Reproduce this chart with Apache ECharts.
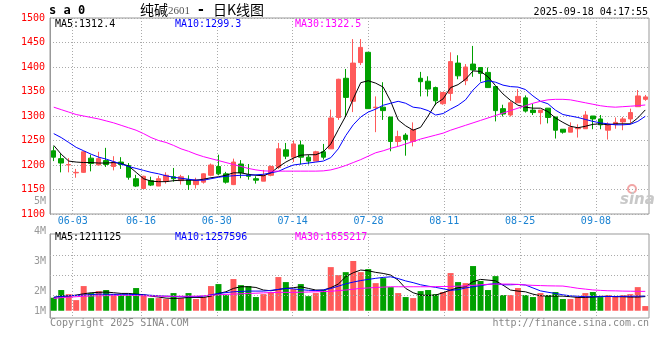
<!DOCTYPE html>
<html><head><meta charset="utf-8">
<script src="https://cdn.jsdelivr.net/npm/echarts@6/dist/echarts.min.js"></script>
<style>html,body{margin:0;padding:0;background:#fff}#c{width:660px;height:360px}</style>
</head><body><div id="c"></div>
<script>
const dates = ['05-28','05-29','05-30','06-03','06-04','06-05','06-06','06-09','06-10','06-11','06-12','06-13','06-16','06-17','06-18','06-19','06-20','06-23','06-24','06-25','06-26','06-27','06-30','07-01','07-02','07-03','07-04','07-07','07-08','07-09','07-10','07-11','07-14','07-15','07-16','07-17','07-18','07-21','07-22','07-23','07-24','07-25','07-28','07-29','07-30','07-31','08-01','08-04','08-05','08-06','08-07','08-08','08-11','08-12','08-13','08-14','08-15','08-18','08-19','08-20','08-21','08-22','08-25','08-26','08-27','08-28','08-29','09-01','09-02','09-03','09-04','09-05','09-08','09-09','09-10','09-11','09-12','09-15','09-16','09-17'];
const opens  = [1229,1213,1200,1184,1185,1214,1200,1209,1197,1206,1199,1172,1152,1168,1157,1167,1176,1168,1170,1160,1165,1179,1197,1182,1160,1202,1180,1172,1167,1179,1195,1231,1216,1241,1216,1208,1227,1233,1297,1377,1330,1409,1430,1317,1318,1298,1248,1261,1248,1377,1371,1358,1325,1346,1408,1372,1406,1399,1389,1360,1315,1302,1327,1337,1312,1307,1316,1298,1273,1267,1274,1274,1300,1294,1271,1283,1288,1294,1319,1334];
const closes = [1216,1204,1201,1185,1227,1203,1213,1201,1206,1201,1175,1157,1177,1159,1172,1179,1172,1176,1160,1169,1182,1200,1182,1165,1206,1184,1177,1169,1179,1197,1233,1218,1243,1216,1208,1227,1216,1296,1375,1338,1408,1440,1315,1318,1311,1248,1258,1252,1272,1370,1355,1331,1348,1411,1382,1400,1394,1387,1358,1311,1304,1327,1340,1310,1307,1312,1297,1271,1267,1277,1275,1302,1294,1282,1283,1287,1294,1307,1341,1339];
const lows   = [1208,1185,1185,1174,1184,1187,1200,1196,1189,1192,1170,1155,1151,1157,1157,1162,1166,1160,1149,1152,1162,1177,1179,1162,1159,1173,1170,1162,1167,1177,1192,1212,1206,1201,1201,1208,1211,1233,1292,1299,1308,1404,1315,1267,1292,1228,1238,1219,1238,1340,1340,1322,1323,1331,1375,1363,1380,1370,1358,1289,1299,1299,1327,1307,1302,1283,1285,1254,1264,1267,1256,1274,1273,1273,1252,1274,1271,1285,1319,1331];
const highs  = [1238,1223,1214,1192,1228,1221,1227,1235,1218,1216,1204,1180,1178,1176,1178,1185,1194,1180,1179,1174,1183,1203,1221,1186,1213,1210,1202,1177,1190,1199,1245,1245,1250,1250,1221,1229,1243,1313,1376,1396,1457,1457,1430,1340,1369,1298,1270,1265,1287,1390,1381,1360,1349,1430,1424,1406,1443,1399,1399,1360,1323,1331,1355,1342,1325,1312,1316,1298,1273,1287,1283,1310,1300,1302,1287,1297,1298,1315,1353,1343];
const volumesM = [1.11,1.77,1.42,0.91,2.11,1.51,1.68,1.77,1.42,1.34,1.34,1.94,1.34,1.08,1.08,1.00,1.51,1.08,1.51,1.00,1.17,2.11,2.28,1.34,2.71,2.19,2.11,1.17,1.42,1.60,2.88,2.45,1.85,2.28,1.25,1.51,1.77,3.73,3.05,3.30,4.25,3.30,3.56,2.36,2.79,2.02,1.51,1.17,1.08,1.68,1.77,1.42,1.60,3.22,2.45,2.36,3.82,2.54,1.77,2.96,1.34,1.34,1.94,1.34,1.17,1.51,1.34,1.60,1.00,1.00,1.17,1.51,1.60,1.17,1.34,1.25,1.34,1.42,2.02,0.40];
const ma5  = [1240,1222,1208,1206,1205,1205,1204,1204,1205,1203,1198,1185,1172,1167,1166,1166,1168,1169,1169,1169,1171,1174,1176,1179,1184,1184,1181,1179,1178,1184,1196,1206,1214,1220,1221,1221,1227,1243,1272,1300,1335,1368,1372,1367,1359,1330,1292,1280,1271,1277,1300,1325,1335,1358,1364,1375,1392,1391,1380,1362,1345,1332,1322,1318,1316,1316,1309,1296,1287,1279,1276,1279,1283,1284,1282,1284,1284,1284,1296,1312.4];
const ma10 = [1264,1256,1246,1236,1229,1222,1216,1212,1207,1202,1197,1193,1189,1185,1182,1178,1175,1173,1171,1169,1169,1172,1175,1177,1178,1179,1179,1180,1181,1184,1187,1194,1200,1202,1204,1206,1208,1215,1233,1260,1282,1298,1308,1314,1322,1326,1330,1326,1318,1316,1311,1302,1305,1314,1322,1333,1353,1368,1372,1369,1363,1360,1359,1354,1341,1330,1325,1312,1303,1300,1297,1293,1289,1286,1284,1282,1282,1283,1289,1299.3];
const ma30 = [1318,1313,1308,1303,1300,1297,1294,1290,1286,1281,1276,1271,1264,1256,1250,1246,1240,1233,1228,1222,1217,1213,1209,1205,1201,1197,1193,1190,1188,1187.5,1187.5,1187.5,1187.5,1187.5,1187.5,1187.5,1188,1190,1194,1199,1205,1211,1218,1225,1229,1234,1238,1243,1248,1253,1257,1261,1265,1271,1276,1281,1286,1291,1296,1301,1306,1311,1316,1321,1326,1330,1333,1334,1334,1333,1330,1327,1324,1321,1319,1318,1319,1320,1321,1322.5];
const volMa5  = [1.14,1.25,1.25,1.34,1.45,1.54,1.57,1.60,1.54,1.48,1.48,1.42,1.37,1.25,1.17,1.08,1.05,1.08,1.14,1.14,1.14,1.25,1.48,1.62,1.91,2.05,2.05,1.99,1.77,1.71,1.82,1.91,1.97,2.05,1.91,1.77,1.77,1.97,2.28,2.91,3.25,3.48,3.42,3.28,3.19,3.05,2.62,1.91,1.54,1.34,1.31,1.34,1.54,1.77,1.97,2.05,2.48,2.68,2.62,2.56,2.19,1.77,1.68,1.62,1.42,1.28,1.25,1.25,1.25,1.20,1.14,1.14,1.17,1.23,1.23,1.20,1.20,1.17,1.17,1.21];
const volMa10 = [1.15,1.22,1.27,1.31,1.34,1.38,1.42,1.41,1.40,1.40,1.40,1.38,1.36,1.32,1.28,1.25,1.22,1.20,1.20,1.20,1.25,1.36,1.48,1.55,1.62,1.65,1.68,1.68,1.68,1.74,1.82,1.91,1.87,1.80,1.75,1.72,1.77,1.90,2.10,2.30,2.45,2.58,2.68,2.77,2.85,2.90,2.75,2.55,2.40,2.22,2.10,2.00,1.88,1.75,1.80,1.95,2.05,2.15,2.25,2.32,2.22,2.22,2.25,2.20,1.95,1.70,1.58,1.48,1.36,1.28,1.24,1.20,1.20,1.20,1.22,1.22,1.23,1.24,1.25,1.26];
const volMa30 = [1.05,1.12,1.16,1.20,1.24,1.26,1.28,1.29,1.30,1.31,1.31,1.30,1.28,1.26,1.25,1.24,1.24,1.24,1.25,1.25,1.28,1.32,1.36,1.40,1.42,1.45,1.48,1.50,1.53,1.55,1.57,1.57,1.57,1.58,1.60,1.62,1.64,1.66,1.72,1.77,1.84,1.91,1.95,1.99,2.02,2.05,2.05,2.05,2.05,2.05,2.05,2.06,2.07,2.08,2.10,2.13,2.17,2.22,2.26,2.28,2.28,2.28,2.25,2.20,2.17,2.15,2.13,2.12,2.11,2.02,1.92,1.85,1.78,1.74,1.71,1.70,1.68,1.67,1.66,1.655];
const tickDates = ['06-03','06-16','06-30','07-14','07-28','08-11','08-25','09-08'];
const priceLegend = ['MA5:1312.4','MA10:1299.3','MA30:1322.5'];
const volLegend = ['MA5:1211125','MA10:1257596','MA30:1655217'];
const volTickLabels = ['5M','4M','3M','2M','1M'];

const UP = '#ff5a5a', DOWN = '#00a000';
const MONO = '"DejaVu Sans Mono", "Liberation Mono", monospace';
const tickIdx = tickDates.map(d => dates.indexOf(d));
const candleData = dates.map((d, i) => [opens[i], closes[i], lows[i], highs[i]]);
const isUp = i => closes[i] > opens[i] || (closes[i] === opens[i] && i > 0 && closes[i] >= closes[i - 1]);
const volData = volumesM.map((v, i) => ({ value: v, itemStyle: { color: isUp(i) ? UP : DOWN } }));

const gridLine = { show: true, lineStyle: { color: '#aaa', type: [1, 2], width: 1 } };
const chart = echarts.init(document.getElementById('c'), null, { renderer: 'canvas' });
const txt = (x, y, text, fill, font, align) => ({ type: 'text', x, y, silent: true, style: { text, fill, font: font || ('10px ' + MONO), textAlign: align || 'left', textVerticalAlign: 'middle' } });

chart.setOption({
  animation: false,
  backgroundColor: '#fff',
  grid: [
    { left: 50, right: 11, top: 18, height: 196, show: true, borderColor: '#999', borderWidth: 1 },
    { left: 50, right: 11, top: 234, height: 84, show: true, borderColor: '#999', borderWidth: 1 }
  ],
  xAxis: [
    { type: 'category', gridIndex: 0, data: dates, boundaryGap: true, axisLine: { show: false }, axisTick: { show: false }, axisLabel: { show: false }, splitLine: { show: false } },
    { type: 'category', gridIndex: 0, data: dates, boundaryGap: false, position: 'bottom', axisLine: { show: false }, axisTick: { show: false },
      axisLabel: { show: true, interval: (i) => tickIdx.includes(i), color: '#1a82d2', fontFamily: MONO, fontSize: 10, margin: 2 },
      splitLine: Object.assign({ interval: (i) => tickIdx.includes(i) }, gridLine) },
    { type: 'category', gridIndex: 1, data: dates, boundaryGap: true, axisLine: { show: false }, axisTick: { show: false }, axisLabel: { show: false }, splitLine: { show: false } },
    { type: 'category', gridIndex: 1, data: dates, boundaryGap: false, axisLine: { show: false }, axisTick: { show: false }, axisLabel: { show: false },
      splitLine: Object.assign({ interval: (i) => tickIdx.includes(i) }, gridLine) }
  ],
  yAxis: [
    { type: 'value', gridIndex: 0, min: 1100, max: 1500, interval: 50, axisLine: { show: true, lineStyle: { color: '#999' } }, axisTick: { show: false },
      axisLabel: { color: '#ff0000', fontFamily: MONO, fontSize: 10, margin: 5, padding: [0, 0, 3, 0], formatter: (v) => String(v) }, splitLine: gridLine },
    { type: 'value', gridIndex: 1, min: -0.62, max: 6.56, axisLine: { show: true, lineStyle: { color: '#999' } }, axisTick: { show: false }, axisLabel: { show: false }, splitLine: { show: false } }
  ],
  series: [
    { type: 'candlestick', xAxisIndex: 0, yAxisIndex: 0, data: candleData, barWidth: 5,
      itemStyle: { color: UP, color0: DOWN, borderColor: UP, borderColor0: DOWN, borderWidth: 1 } },
    { type: 'line', xAxisIndex: 0, yAxisIndex: 0, data: ma5, showSymbol: false, lineStyle: { color: '#000', width: 1 } },
    { type: 'line', xAxisIndex: 0, yAxisIndex: 0, data: ma10, showSymbol: false, lineStyle: { color: '#0000ff', width: 1 } },
    { type: 'line', xAxisIndex: 0, yAxisIndex: 0, data: ma30, showSymbol: false, lineStyle: { color: '#ff00ff', width: 1 } },
    { type: 'bar', xAxisIndex: 2, yAxisIndex: 1, data: volData, barWidth: 6,
      markLine: { silent: true, symbol: 'none', label: { show: false }, lineStyle: { color: '#aaa', type: [1, 2], width: 1 },
        data: [{ yAxis: 1.342 }, { yAxis: 3.051 }, { yAxis: 4.761 }] } },
    { type: 'line', xAxisIndex: 2, yAxisIndex: 1, data: volMa5, showSymbol: false, lineStyle: { color: '#000', width: 1 } },
    { type: 'line', xAxisIndex: 2, yAxisIndex: 1, data: volMa10, showSymbol: false, lineStyle: { color: '#0000ff', width: 1 } },
    { type: 'line', xAxisIndex: 2, yAxisIndex: 1, data: volMa30, showSymbol: false, lineStyle: { color: '#ff00ff', width: 1 } }
  ],
  graphic: [
    txt(49, 11, 's a 0', '#000', 'bold 12px ' + MONO),
    txt(140, 10, '纯碱', '#000', '14px "Noto Sans CJK SC"'),
    txt(168, 11, '2601', '#555', '11px "Liberation Serif"'),
    txt(198, 10, '-', '#000', 'bold 14px "DejaVu Sans"'),
    txt(213, 10, '日K线图', '#000', '14px "Noto Sans CJK SC"'),
    txt(648, 12, '2025-09-18 04:17:55', '#000', '10px ' + MONO, 'right'),
    txt(55, 24, priceLegend[0], '#000'),
    txt(175, 24, priceLegend[1], '#0000ff'),
    txt(295, 24, priceLegend[2], '#ff00ff'),
    txt(55, 237, volLegend[0], '#000'),
    txt(175, 237, volLegend[1], '#0000ff'),
    txt(295, 237, volLegend[2], '#ff00ff'),
    txt(46, 201, volTickLabels[0], '#999', '10px ' + MONO, 'right'),
    txt(46, 231, volTickLabels[1], '#999', '10px ' + MONO, 'right'),
    txt(46, 261, volTickLabels[2], '#999', '10px ' + MONO, 'right'),
    txt(46, 291, volTickLabels[3], '#999', '10px ' + MONO, 'right'),
    txt(46, 311, volTickLabels[4], '#999', '10px ' + MONO, 'right'),
    txt(50, 323, 'Copyright 2025 SINA.COM', '#888'),
    txt(649, 323, 'http://finance.sina.com.cn', '#888', '10px ' + MONO, 'right'),
    { type: 'circle', silent: true, shape: { cx: 632, cy: 189, r: 4 }, style: { fill: 'none', stroke: '#f2a6a6', lineWidth: 2 } },
    txt(620, 200, 'sina', '#c8c8c8', 'italic bold 15px "DejaVu Sans"')
  ]
});
</script></body></html>
